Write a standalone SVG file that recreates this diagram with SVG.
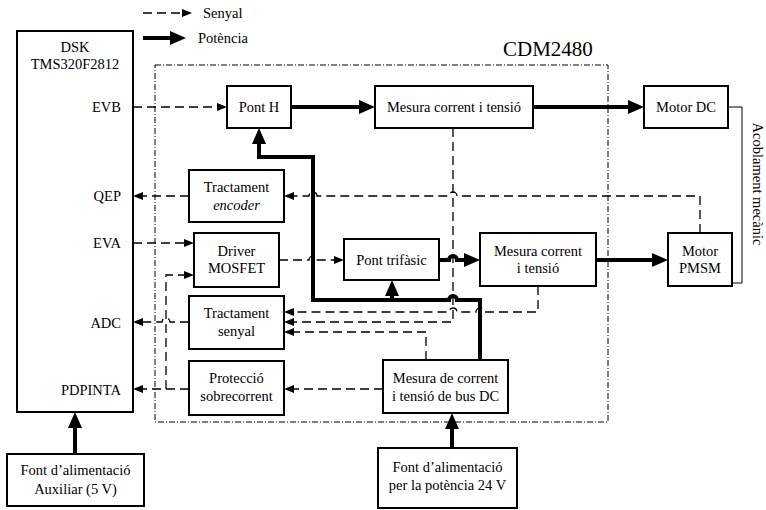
<svg xmlns="http://www.w3.org/2000/svg" width="766" height="510" viewBox="0 0 766 510">
  <style>
    text { font-family: "Liberation Serif", "Times New Roman", serif; font-size: 14.5px; fill: #000; }
    .c { text-anchor: middle; }
    .r { text-anchor: end; }
    .box { fill: #fff; stroke: #000; stroke-width: 2; }
    .sig { fill: none; stroke: #000; stroke-width: 1.3; stroke-dasharray: 9 5; }
    .pow { fill: none; stroke: #000; stroke-width: 4; }
    .mech { fill: none; stroke: #000; stroke-width: 1; }
    .frame { fill: none; stroke: #000; stroke-width: 1; stroke-dasharray: 6 2 1 2; }
  </style>
  <defs>
    <marker id="sa" markerUnits="userSpaceOnUse" markerWidth="10" markerHeight="8" refX="0" refY="4" orient="auto" overflow="visible">
      <path d="M0,0 L10,4 L0,8 Z" fill="#000"/>
    </marker>
    <marker id="pa" markerUnits="userSpaceOnUse" markerWidth="16" markerHeight="14" refX="0" refY="7" orient="auto" overflow="visible">
      <path d="M0,0 L16,7 L0,14 Z" fill="#000"/>
    </marker>
  </defs>

  <!-- legend -->
  <g id="legend">
    <path class="sig" d="M143,13 H182" marker-end="url(#sa)"/>
    <text x="203" y="18">Senyal</text>
    <path class="pow" d="M143,38 H170" marker-end="url(#pa)"/>
    <text x="198" y="43">Potència</text>
  </g>

  <!-- board frame -->
  <g id="cdm2480">
    <rect class="frame" x="155" y="65" width="453" height="357"/>
    <text x="503" y="56" style="font-size:21px">CDM2480</text>
  </g>

  <!-- connectors -->
  <g id="connectors">
    <!-- power -->
    <path class="pow" d="M291,107 H359" marker-end="url(#pa)"/>
    <path class="pow" d="M533,107 H628" marker-end="url(#pa)"/>
    <path class="pow" d="M439,260 H449 A4,4 0 0 1 457,260 H464" marker-end="url(#pa)"/>
    <path class="pow" d="M596,260 H652" marker-end="url(#pa)"/>
    <path class="pow" d="M480,360 V300 H457 A4,4 0 0 0 449,300 H313 V157 H259 V144" marker-end="url(#pa)"/>
    <path class="pow" d="M392,300 V296" marker-end="url(#pa)"/>
    <path class="pow" d="M75,454 V428" marker-end="url(#pa)"/>
    <path class="pow" d="M452,448 V429" marker-end="url(#pa)"/>
    <!-- signals -->
    <path class="sig" d="M133,107 H217" marker-end="url(#sa)"/>
    <path class="sig" d="M189,196 H143" marker-end="url(#sa)"/>
    <path class="sig" d="M700,233 V196 H457 A4,4 0 0 0 449,196 H317 A4,4 0 0 0 309,196 H294" marker-end="url(#sa)"/>
    <path class="sig" d="M133,243 H184" marker-end="url(#sa)"/>
    <path class="sig" d="M279,260 H309 A4,4 0 0 1 317,260 H334" marker-end="url(#sa)"/>
    <path class="sig" d="M453,128 V322 H294" marker-end="url(#sa)"/>
    <path class="sig" d="M538,286 V312 H484 A4,4 0 0 0 476,312 H457 A4,4 0 0 0 449,312 H294" marker-end="url(#sa)"/>
    <path class="sig" d="M426,360 V332 H294" marker-end="url(#sa)"/>
    <path class="sig" d="M383,389 H294" marker-end="url(#sa)"/>
    <path class="sig" d="M189,322 H170 A4,4 0 0 0 162,322 H143" marker-end="url(#sa)"/>
    <path class="sig" d="M189,389 H143" marker-end="url(#sa)"/>
    <path class="sig" d="M166,389 V275 H184" marker-end="url(#sa)"/>
    <!-- mechanical coupling -->
    <path class="mech" d="M728,107 H742 V283 H732"/>
  </g>
  <text x="0" y="0" transform="translate(752.5,184) rotate(90)" class="c">Acoblament mecànic</text>

  <!-- nodes -->
  <g id="dsk">
    <rect class="box" x="17" y="31" width="116" height="381"/>
    <text class="c" x="75" y="52">DSK</text>
    <text class="c" x="75" y="69">TMS320F2812</text>
    <text class="r" x="121" y="112">EVB</text>
    <text class="r" x="121" y="201">QEP</text>
    <text class="r" x="121" y="248">EVA</text>
    <text class="r" x="121" y="328">ADC</text>
    <text class="r" x="121" y="395">PDPINTA</text>
  </g>
  <g id="pont-h">
    <rect class="box" x="227" y="86" width="64" height="42"/>
    <text class="c" x="259" y="112">Pont H</text>
  </g>
  <g id="mesura-dc">
    <rect class="box" x="375" y="86" width="158" height="42"/>
    <text class="c" x="454" y="112">Mesura corrent i tensió</text>
  </g>
  <g id="motor-dc">
    <rect class="box" x="644" y="86" width="84" height="42"/>
    <text class="c" x="686" y="112">Motor DC</text>
  </g>
  <g id="tractament-encoder">
    <rect class="box" x="189" y="170" width="95" height="52"/>
    <text class="c" x="236.5" y="192">Tractament</text>
    <text class="c" x="236.5" y="210" font-style="italic">encoder</text>
  </g>
  <g id="driver-mosfet">
    <rect class="box" x="194" y="233" width="85" height="54"/>
    <text class="c" x="236.5" y="256">Driver</text>
    <text class="c" x="236.5" y="273">MOSFET</text>
  </g>
  <g id="pont-trifasic">
    <rect class="box" x="344" y="239" width="95" height="41"/>
    <text class="c" x="391.5" y="265">Pont trifàsic</text>
  </g>
  <g id="mesura-pmsm">
    <rect class="box" x="480" y="233" width="116" height="53"/>
    <text class="c" x="538" y="256">Mesura corrent</text>
    <text class="c" x="538" y="273">i tensió</text>
  </g>
  <g id="motor-pmsm">
    <rect class="box" x="668" y="233" width="64" height="53"/>
    <text class="c" x="700" y="256">Motor</text>
    <text class="c" x="700" y="273">PMSM</text>
  </g>
  <g id="tractament-senyal">
    <rect class="box" x="189" y="296" width="95" height="53"/>
    <text class="c" x="236.5" y="318">Tractament</text>
    <text class="c" x="236.5" y="336">senyal</text>
  </g>
  <g id="proteccio">
    <rect class="box" x="189" y="361" width="95" height="54"/>
    <text class="c" x="236.5" y="383">Protecció</text>
    <text class="c" x="236.5" y="401">sobrecorrent</text>
  </g>
  <g id="mesura-bus">
    <rect class="box" x="383" y="360" width="125" height="53"/>
    <text class="c" x="445.5" y="383">Mesura de corrent</text>
    <text class="c" x="445.5" y="401">i tensió de bus DC</text>
  </g>
  <g id="font-aux">
    <rect class="box" x="7" y="454" width="137" height="52"/>
    <text class="c" x="75.5" y="475">Font d’alimentació</text>
    <text class="c" x="75.5" y="494">Auxiliar (5 V)</text>
  </g>
  <g id="font-pot">
    <rect class="box" x="378" y="448" width="139" height="60"/>
    <text class="c" x="447.5" y="472">Font d’alimentació</text>
    <text class="c" x="447.5" y="490">per la potència 24 V</text>
  </g>
</svg>
